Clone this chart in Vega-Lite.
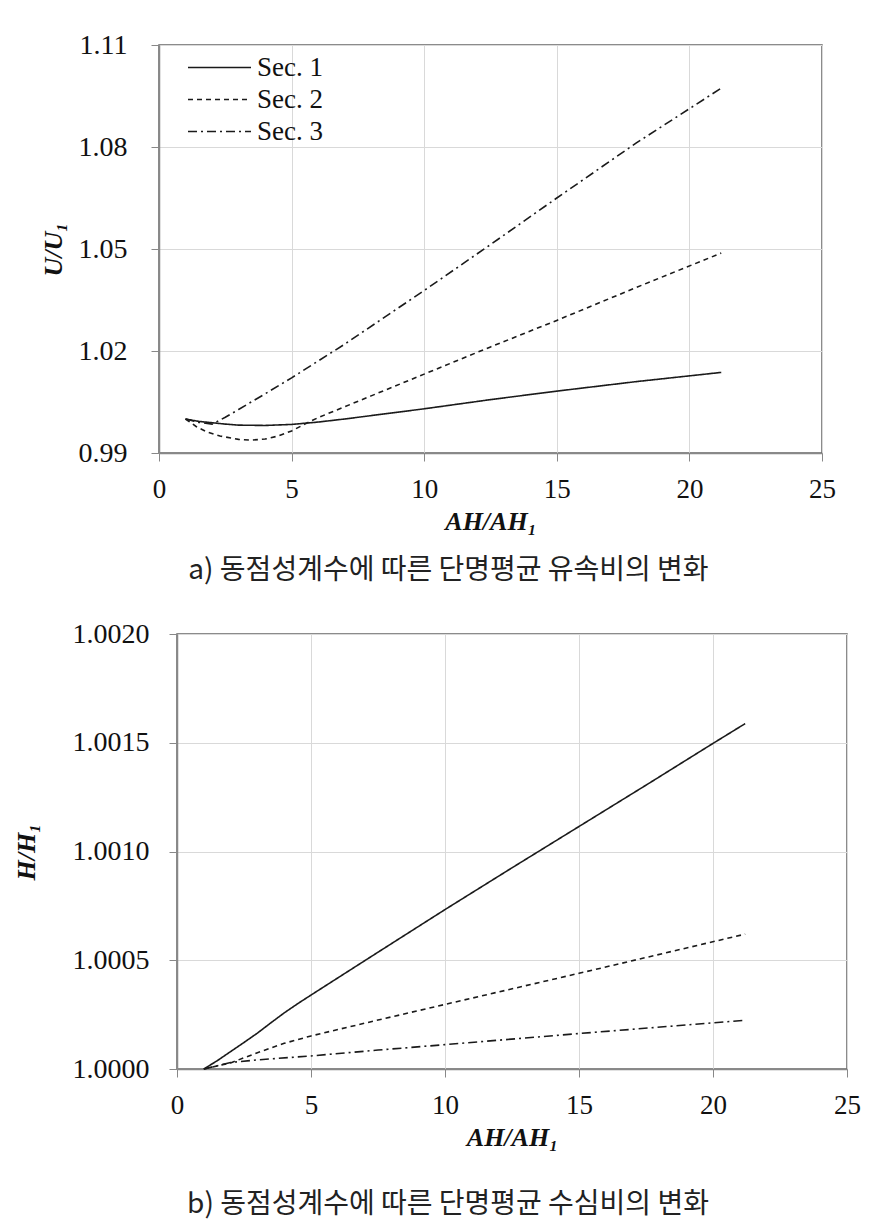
{
  "$schema": "https://vega.github.io/schema/vega-lite/v6.json",
  "background": "white",
  "autosize": {"type": "pad"},
  "padding": {"left": 5, "top": 30, "right": 5, "bottom": 5},
  "config": {
    "font": "Liberation Serif",
    "view": {"stroke": "#666", "strokeWidth": 1.5},
    "axis": {
      "labelFont": "Liberation Serif", "labelFontSize": 27, "labelColor": "#111",
      "titleFont": "Liberation Serif", "titleFontSize": 26, "titleFontWeight": "bold", "titleFontStyle": "italic", "titleColor": "#111",
      "gridColor": "#d9d9d9", "gridWidth": 1,
      "domainColor": "#888", "domainWidth": 1.5,
      "tickColor": "#888", "tickSize": 8, "tickWidth": 1,
      "labelFlush": false, "labelOverlap": false
    },
    "axisY": {"labelFontSize": 28},
    "legend": {
      "labelFont": "Liberation Serif", "labelFontSize": 27, "labelColor": "#111"
    },
    "title": {
      "font": "Noto Sans CJK KR", "fontSize": 28, "fontWeight": "normal", "color": "#222",
      "orient": "bottom", "anchor": "middle", "frame": "group", "offset": 23
    }
  },
  "datasets": {
    "u": [
      {"s": "Sec. 1", "x": 1.0, "y": 1.0000},
      {"s": "Sec. 1", "x": 1.5, "y": 0.9993},
      {"s": "Sec. 1", "x": 2.0, "y": 0.9989},
      {"s": "Sec. 1", "x": 2.5, "y": 0.9985},
      {"s": "Sec. 1", "x": 3.0, "y": 0.9982},
      {"s": "Sec. 1", "x": 4.0, "y": 0.9981},
      {"s": "Sec. 1", "x": 5.0, "y": 0.9984},
      {"s": "Sec. 1", "x": 6.0, "y": 0.9991},
      {"s": "Sec. 1", "x": 7.0, "y": 1.0000},
      {"s": "Sec. 1", "x": 8.0, "y": 1.0010},
      {"s": "Sec. 1", "x": 10.0, "y": 1.0030},
      {"s": "Sec. 1", "x": 12.5, "y": 1.0057},
      {"s": "Sec. 1", "x": 15.0, "y": 1.0082},
      {"s": "Sec. 1", "x": 18.0, "y": 1.0110},
      {"s": "Sec. 1", "x": 21.2, "y": 1.0137},
      {"s": "Sec. 2", "x": 1.0, "y": 1.0000},
      {"s": "Sec. 2", "x": 1.4, "y": 0.9978},
      {"s": "Sec. 2", "x": 1.8, "y": 0.9962},
      {"s": "Sec. 2", "x": 2.3, "y": 0.9950},
      {"s": "Sec. 2", "x": 3.0, "y": 0.9940},
      {"s": "Sec. 2", "x": 3.5, "y": 0.9938},
      {"s": "Sec. 2", "x": 4.0, "y": 0.9941},
      {"s": "Sec. 2", "x": 4.5, "y": 0.9950},
      {"s": "Sec. 2", "x": 5.0, "y": 0.9965},
      {"s": "Sec. 2", "x": 5.5, "y": 0.9985},
      {"s": "Sec. 2", "x": 6.0, "y": 1.0004},
      {"s": "Sec. 2", "x": 7.0, "y": 1.0036},
      {"s": "Sec. 2", "x": 8.0, "y": 1.0068},
      {"s": "Sec. 2", "x": 10.0, "y": 1.0132},
      {"s": "Sec. 2", "x": 12.5, "y": 1.0212},
      {"s": "Sec. 2", "x": 15.0, "y": 1.0290},
      {"s": "Sec. 2", "x": 18.0, "y": 1.0387},
      {"s": "Sec. 2", "x": 21.2, "y": 1.0488},
      {"s": "Sec. 3", "x": 1.0, "y": 1.0000},
      {"s": "Sec. 3", "x": 1.5, "y": 0.9990},
      {"s": "Sec. 3", "x": 2.0, "y": 0.9985},
      {"s": "Sec. 3", "x": 2.5, "y": 1.0005},
      {"s": "Sec. 3", "x": 3.0, "y": 1.0028},
      {"s": "Sec. 3", "x": 4.0, "y": 1.0074},
      {"s": "Sec. 3", "x": 5.0, "y": 1.0121},
      {"s": "Sec. 3", "x": 7.0, "y": 1.0220},
      {"s": "Sec. 3", "x": 10.0, "y": 1.0378},
      {"s": "Sec. 3", "x": 12.5, "y": 1.0513},
      {"s": "Sec. 3", "x": 15.0, "y": 1.0650},
      {"s": "Sec. 3", "x": 18.0, "y": 1.0812},
      {"s": "Sec. 3", "x": 21.2, "y": 1.0973}
    ],
    "h": [
      {"s": "Sec. 1", "x": 1.0, "y": 1.000000},
      {"s": "Sec. 1", "x": 1.5, "y": 1.000038},
      {"s": "Sec. 1", "x": 2.0, "y": 1.000080},
      {"s": "Sec. 1", "x": 2.5, "y": 1.000122},
      {"s": "Sec. 1", "x": 3.0, "y": 1.000165},
      {"s": "Sec. 1", "x": 3.5, "y": 1.000212},
      {"s": "Sec. 1", "x": 4.0, "y": 1.000258},
      {"s": "Sec. 1", "x": 4.5, "y": 1.000300},
      {"s": "Sec. 1", "x": 5.0, "y": 1.000340},
      {"s": "Sec. 1", "x": 7.5, "y": 1.000537},
      {"s": "Sec. 1", "x": 10.0, "y": 1.000733},
      {"s": "Sec. 1", "x": 12.5, "y": 1.000925},
      {"s": "Sec. 1", "x": 15.0, "y": 1.001115},
      {"s": "Sec. 1", "x": 17.5, "y": 1.001305},
      {"s": "Sec. 1", "x": 20.0, "y": 1.001497},
      {"s": "Sec. 1", "x": 21.2, "y": 1.001588},
      {"s": "Sec. 2", "x": 1.0, "y": 1.000000},
      {"s": "Sec. 2", "x": 2.0, "y": 1.000028},
      {"s": "Sec. 2", "x": 3.0, "y": 1.000075},
      {"s": "Sec. 2", "x": 4.0, "y": 1.000118},
      {"s": "Sec. 2", "x": 5.0, "y": 1.000152},
      {"s": "Sec. 2", "x": 7.5, "y": 1.000225},
      {"s": "Sec. 2", "x": 10.0, "y": 1.000297},
      {"s": "Sec. 2", "x": 15.0, "y": 1.000440},
      {"s": "Sec. 2", "x": 21.2, "y": 1.000620},
      {"s": "Sec. 3", "x": 1.0, "y": 1.000000},
      {"s": "Sec. 3", "x": 2.0, "y": 1.000030},
      {"s": "Sec. 3", "x": 3.0, "y": 1.000042},
      {"s": "Sec. 3", "x": 5.0, "y": 1.000060},
      {"s": "Sec. 3", "x": 7.5, "y": 1.000087},
      {"s": "Sec. 3", "x": 10.0, "y": 1.000112},
      {"s": "Sec. 3", "x": 15.0, "y": 1.000163},
      {"s": "Sec. 3", "x": 21.2, "y": 1.000224}
    ],
    "empty": []
  },
  "vconcat": [
    {
      "spacing": 0,
      "hconcat": [
        {
          "width": 34,
          "height": 10,
          "data": {"name": "empty"},
          "mark": {"type": "point", "opacity": 0},
          "view": {"stroke": null}
        },
        {
          "width": 663,
          "height": 408,
          "data": {"name": "u"},
          "title": {"text": "a) 동점성계수에 따른 단명평균 유속비의 변화", "dx": -42},
          "mark": {"type": "line", "strokeWidth": 1.6, "color": "#1a1a1a"},
          "encoding": {
            "x": {
              "field": "x", "type": "quantitative",
              "scale": {"domain": [0, 25], "nice": false, "zero": false},
              "axis": {"values": [0, 5, 10, 15, 20, 25], "title": "AH/AH₁", "labelPadding": 15, "titlePadding": 6}
            },
            "y": {
              "field": "y", "type": "quantitative",
              "scale": {"domain": [0.99, 1.11], "nice": false, "zero": false},
              "axis": {"values": [0.99, 1.02, 1.05, 1.08, 1.11], "format": ".2f", "title": "U/U₁", "labelPadding": 24, "titlePadding": 12}
            },
            "strokeDash": {
              "field": "s", "type": "nominal",
              "scale": {"domain": ["Sec. 1", "Sec. 2", "Sec. 3"], "range": [[1, 0], [5, 4], [9, 4, 2, 4]]},
              "legend": {
                "title": null, "orient": "none", "legendX": 180, "legendY": 9,
                "symbolType": "M-1,0H5", "symbolSize": 441,
                "symbolStrokeWidth": 1.6, "symbolStrokeColor": "#1a1a1a",
                "labelOffset": 45, "rowPadding": 4
              }
            }
          }
        }
      ]
    },
    {
      "spacing": 0,
      "hconcat": [
        {
          "width": 7,
          "height": 10,
          "data": {"name": "empty"},
          "mark": {"type": "point", "opacity": 0},
          "view": {"stroke": null}
        },
        {
          "width": 670,
          "height": 435,
          "data": {"name": "h"},
          "title": {"text": "b) 동점성계수에 따른 단명평균 수심비의 변화", "dx": -64, "offset": 41},
          "mark": {"type": "line", "strokeWidth": 1.6, "color": "#1a1a1a"},
          "encoding": {
            "x": {
              "field": "x", "type": "quantitative",
              "scale": {"domain": [0, 25], "nice": false, "zero": false},
              "axis": {"values": [0, 5, 10, 15, 20, 25], "title": "AH/AH₁", "labelPadding": 15, "titlePadding": 6}
            },
            "y": {
              "field": "y", "type": "quantitative",
              "scale": {"domain": [1.0, 1.002], "nice": false, "zero": false},
              "axis": {"values": [1.0, 1.0005, 1.001, 1.0015, 1.002], "format": ".4f", "title": "H/H₁", "labelPadding": 20, "titlePadding": 33}
            },
            "strokeDash": {
              "field": "s", "type": "nominal",
              "scale": {"domain": ["Sec. 1", "Sec. 2", "Sec. 3"], "range": [[1, 0], [5, 4], [9, 4, 2, 4]]},
              "legend": null
            }
          }
        }
      ]
    }
  ],
  "spacing": 33
}
